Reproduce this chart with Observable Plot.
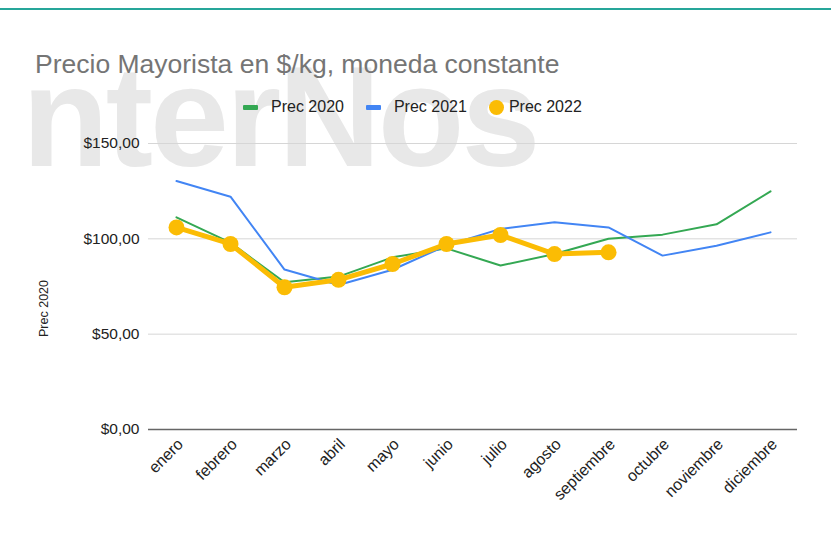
<!DOCTYPE html>
<html>
<head>
<meta charset="utf-8">
<script src="https://cdn.jsdelivr.net/npm/d3@7"></script>
<script src="https://cdn.jsdelivr.net/npm/@observablehq/plot@0.6"></script>
<style>
  html, body { margin: 0; padding: 0; background: #fff; }
  #wrap { position: relative; width: 831px; height: 538px; overflow: hidden; font-family: "Liberation Sans", Arial, sans-serif; }
  #topline { position: absolute; left: 0; top: 8px; width: 831px; height: 2px; background: #26a69a; }
  #watermark { position: absolute; left: 22px; top: 46px; font-size: 142px; font-weight: bold; color: #e8e8e8; line-height: 1; letter-spacing: -3px; white-space: nowrap; }
  #title { position: absolute; left: 35px; top: 49px; font-size: 26.5px; color: #757575; white-space: nowrap; line-height: normal; }
  #legend { position: absolute; left: 243px; top: 98px; font-size: 16px; color: #222; display: flex; align-items: center; white-space: nowrap; line-height: normal; }
  #legend .item { display: flex; align-items: center; margin-right: 22px; }
  #legend .sw { width: 15px; height: 5px; margin-right: 13px; border-radius: 1px; }
  #legend .dot { width: 15px; height: 15px; border-radius: 50%; margin-right: 5px; }
  #chart { position: absolute; left: 0; top: 0; }
</style>
</head>
<body>
<div id="wrap">
  <div id="topline"></div>
  <div id="watermark">nterNos</div>
  <div id="title">Precio Mayorista en $/kg, moneda constante</div>
  <div id="legend"></div>
  <div id="chart"></div>
</div>
<script>
const months = ["enero", "febrero", "marzo", "abril", "mayo", "junio", "julio", "agosto", "septiembre", "octubre", "noviembre", "diciembre"];
const prec2020 = [111.3, 98, 77.2, 80.2, 90.3, 95, 86, 92, 100, 102.2, 107.6, 124.9];
const prec2021 = [130.3, 122.1, 83.9, 75.8, 83.8, 96.5, 105.2, 108.7, 106, 91.2, 96.4, 103.4];
const prec2022 = [106, 97.3, 74.6, 78.5, 86.8, 97.3, 102, 92, 92.9];
const seriesNames = ["Prec 2020", "Prec 2021", "Prec 2022"];
const seriesColors = ["#34a853", "#4285f4", "#fbbc04"];
const yTicks = [0, 50, 100, 150];

const toRows = (vals) => vals.map((v, i) => ({month: months[i], value: v}));
const d2020 = toRows(prec2020);
const d2021 = toRows(prec2021);
const d2022 = toRows(prec2022);

const fmt = d => "$" + d.toFixed(2).replace(".", ",");

const chart = Plot.plot({
  width: 831,
  height: 538,
  marginLeft: 148,
  marginRight: 34,
  marginTop: 143,
  marginBottom: 109,
  style: {background: "transparent", fontFamily: "'Liberation Sans', Arial, sans-serif", fontSize: "15.5px", color: "#222"},
  x: {type: "point", domain: months, padding: 0.5},
  y: {domain: [0, 150]},
  marks: [
    Plot.gridY(yTicks, {stroke: "#d6d6d6", strokeOpacity: 1}),
    Plot.ruleY([0], {stroke: "#666", strokeWidth: 1.5}),
    Plot.axisY({ticks: yTicks, tickFormat: fmt, tickSize: 0, tickPadding: 9, label: null}),
    Plot.axisX({tickRotate: -45, tickSize: 0, tickPadding: 12, dx: 4, fontSize: 16, label: null}),
    Plot.lineY(d2020, {x: "month", y: "value", stroke: seriesColors[0], strokeWidth: 2}),
    Plot.lineY(d2021, {x: "month", y: "value", stroke: seriesColors[1], strokeWidth: 2}),
    Plot.lineY(d2022, {x: "month", y: "value", stroke: seriesColors[2], strokeWidth: 5}),
    Plot.dot(d2022, {x: "month", y: "value", r: 8, fill: seriesColors[2]}),
    Plot.text(["Prec 2020"], {frameAnchor: "left", textAnchor: "middle", dx: -105, dy: 22, rotate: -90, fontSize: 12.5, fill: "#222"})
  ]
});
document.getElementById("chart").appendChild(chart);

const legend = document.getElementById("legend");
seriesNames.forEach((name, i) => {
  const item = document.createElement("div");
  item.className = "item";
  const sw = document.createElement("div");
  sw.className = i === 2 ? "dot" : "sw";
  sw.style.background = seriesColors[i];
  const label = document.createElement("span");
  label.textContent = name;
  item.appendChild(sw);
  item.appendChild(label);
  legend.appendChild(item);
});
</script>
</body>
</html>
